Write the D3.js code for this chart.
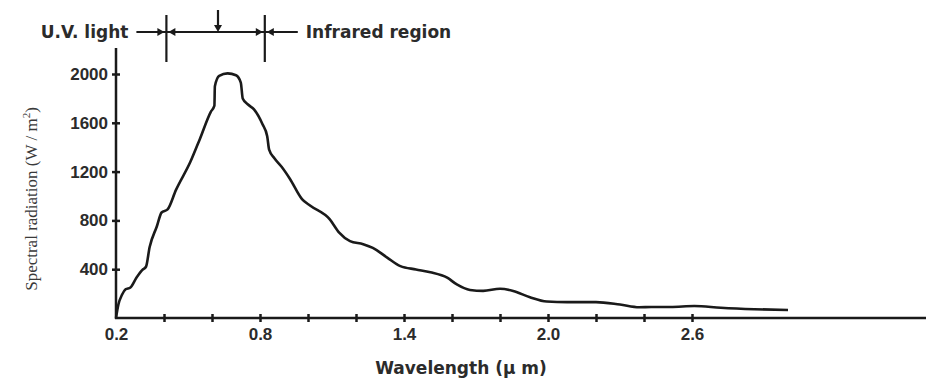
<!DOCTYPE html>
<html>
<head>
<meta charset="utf-8">
<script src="https://cdn.jsdelivr.net/npm/d3@7"></script>
<style>
  body { margin: 0; background: #fff; }
  svg { display: block; }
</style>
</head>
<body>
<script>
// Spectral radiation curve
const wavelength = [
  0.20, 0.21, 0.225, 0.24, 0.26, 0.285, 0.31, 0.325, 0.34, 0.37, 0.39, 0.415,
  0.45, 0.51, 0.55, 0.595, 0.61, 0.612, 0.63, 0.665, 0.70, 0.72, 0.728, 0.75,
  0.775, 0.81, 0.83, 0.838, 0.86, 0.89, 0.925, 0.975, 1.01, 1.09, 1.13, 1.175,
  1.23, 1.27, 1.33, 1.385, 1.45, 1.51, 1.58, 1.62, 1.675, 1.73, 1.80, 1.855,
  1.925, 1.995, 2.08, 2.20, 2.30, 2.38, 2.43, 2.51, 2.61, 2.72, 2.86, 3.0
];
const radiation = [
  0, 110, 190, 235, 250, 330, 395, 420, 580, 750, 865, 890,
  1050, 1280, 1470, 1690, 1740, 1900, 1985, 2005, 1990, 1930, 1800, 1750,
  1710, 1590, 1490, 1380, 1310, 1240, 1140, 975, 920, 810, 700, 630,
  605, 575, 495, 425, 398, 375, 330, 275, 230, 222, 240, 222,
  170, 135, 130, 130, 110, 88, 90, 90, 98, 84, 72, 65
];

const xTicks = [0.2, 0.4, 0.6, 0.8, 1.0, 1.2, 1.4, 1.6, 1.8, 2.0, 2.2, 2.4, 2.6];
const xTickLabels = ['0.2', '0.8', '1.4', '2.0', '2.6'];
const yTicks = [400, 800, 1200, 1600, 2000];

// visible band edges and the peak marker (µm)
const regionEdges = [0.41, 0.82];
const peakMarker = 0.625;
const uvLabel = 'U.V. light';
const irLabel = 'Infrared region';

const W = 926, H = 383;
const ox = 116, oy = 318;   // plot origin
const x = d3.scaleLinear().domain([0.2, 3.575]).range([ox, W]);
const y = d3.scaleLinear().domain([0, 2000]).range([oy, 74]);

const svg = d3.select('body').append('svg')
  .attr('width', W).attr('height', H)
  .style('font-family', '"DejaVu Sans", sans-serif');

const ink = '#1a1a1a';
const textInk = '#2b2b2b';

// x axis
const xAxis = svg.append('g')
  .attr('transform', `translate(0,${oy})`)
  .call(d3.axisBottom(x)
    .tickValues(xTicks)
    .tickSize(0)
    .tickPadding(10)
    .tickFormat(d => {
      const s = d.toFixed(1);
      return xTickLabels.includes(s) ? s : '';
    }));
xAxis.select('.domain').remove();
xAxis.selectAll('.tick line')
  .attr('y1', -4).attr('y2', 4)
  .attr('stroke', ink).attr('stroke-width', 2.5)
  .filter(d => d === 0.2).remove();
xAxis.selectAll('.tick text')
  .attr('fill', textInk)
  .style('font-size', '17px').style('font-weight', 'bold');
xAxis.append('line')
  .attr('x1', ox - 1).attr('x2', W)
  .attr('stroke', ink).attr('stroke-width', 2.5);

// y axis
const yAxis = svg.append('g')
  .attr('transform', `translate(${ox},0)`)
  .call(d3.axisLeft(y)
    .tickValues(yTicks)
    .tickSize(0)
    .tickPadding(8)
    .tickFormat(d3.format('d')));
yAxis.select('.domain').remove();
yAxis.selectAll('.tick line')
  .attr('x1', -4).attr('x2', 4)
  .attr('stroke', ink).attr('stroke-width', 2.5);
yAxis.selectAll('.tick text')
  .attr('fill', textInk)
  .style('font-size', '17px').style('font-weight', 'bold');
yAxis.append('line')
  .attr('y1', oy + 1).attr('y2', 48)
  .attr('stroke', ink).attr('stroke-width', 2.5);

// axis titles
svg.append('text')
  .attr('x', 461).attr('y', 374)
  .attr('text-anchor', 'middle')
  .attr('fill', textInk)
  .style('font-size', '17px').style('font-weight', 'bold')
  .text('Wavelength (\u00b5 m)');

const yTitle = svg.append('text')
  .attr('transform', 'translate(37,199) rotate(-90)')
  .attr('text-anchor', 'middle')
  .attr('fill', '#3a3a3a')
  .style('font-family', '"Liberation Serif", serif')
  .style('font-size', '17px');
yTitle.append('tspan').text('Spectral radiation (W / m');
yTitle.append('tspan').attr('dy', -7).style('font-size', '11px').text('2');
yTitle.append('tspan').attr('dy', 7).text(')');

// curve
const data = d3.zip(wavelength, radiation);
svg.append('path')
  .datum(data)
  .attr('fill', 'none')
  .attr('stroke', ink)
  .attr('stroke-width', 2.6)
  .attr('stroke-linejoin', 'round')
  .attr('d', d3.line()
    .x(d => x(d[0]))
    .y(d => y(d[1]))
    .curve(d3.curveMonotoneX));

// header: band markers and arrows
const hy = 32;
const x0 = x(regionEdges[0]), x1 = x(regionEdges[1]), xp = x(peakMarker);
const head = svg.append('g').attr('stroke', ink).attr('stroke-width', 2.2);

head.append('line').attr('x1', x0 - 30).attr('x2', x1 + 33).attr('y1', hy).attr('y2', hy);
regionEdges.forEach(e => {
  head.append('line').attr('x1', x(e)).attr('x2', x(e)).attr('y1', 15).attr('y2', 62);
});
head.append('line').attr('x1', xp).attr('x2', xp).attr('y1', 10).attr('y2', hy - 6);

const arrow = (tx, ty, dir) => {
  // small filled triangle with its tip at (tx, ty)
  const s = 7, h = 4;
  let pts;
  if (dir === 'right') pts = [[tx, ty], [tx - s, ty - h], [tx - s, ty + h]];
  else if (dir === 'left') pts = [[tx, ty], [tx + s, ty - h], [tx + s, ty + h]];
  else pts = [[tx, ty], [tx - h, ty - s], [tx + h, ty - s]];
  svg.append('path')
    .attr('d', 'M' + pts.join('L') + 'Z')
    .attr('fill', ink);
};
arrow(x0 - 2, hy, 'right');
arrow(x0 + 2, hy, 'left');
arrow(x1 - 2, hy, 'right');
arrow(x1 + 2, hy, 'left');
arrow(xp, hy, 'down');

svg.append('text')
  .attr('x', x0 - 38).attr('y', hy + 6)
  .attr('text-anchor', 'end')
  .attr('fill', textInk)
  .style('font-size', '17px').style('font-weight', 'bold')
  .text(uvLabel);

svg.append('text')
  .attr('x', x1 + 41).attr('y', hy + 6)
  .attr('fill', textInk)
  .style('font-size', '17px').style('font-weight', 'bold')
  .text(irLabel);
</script>
</body>
</html>
